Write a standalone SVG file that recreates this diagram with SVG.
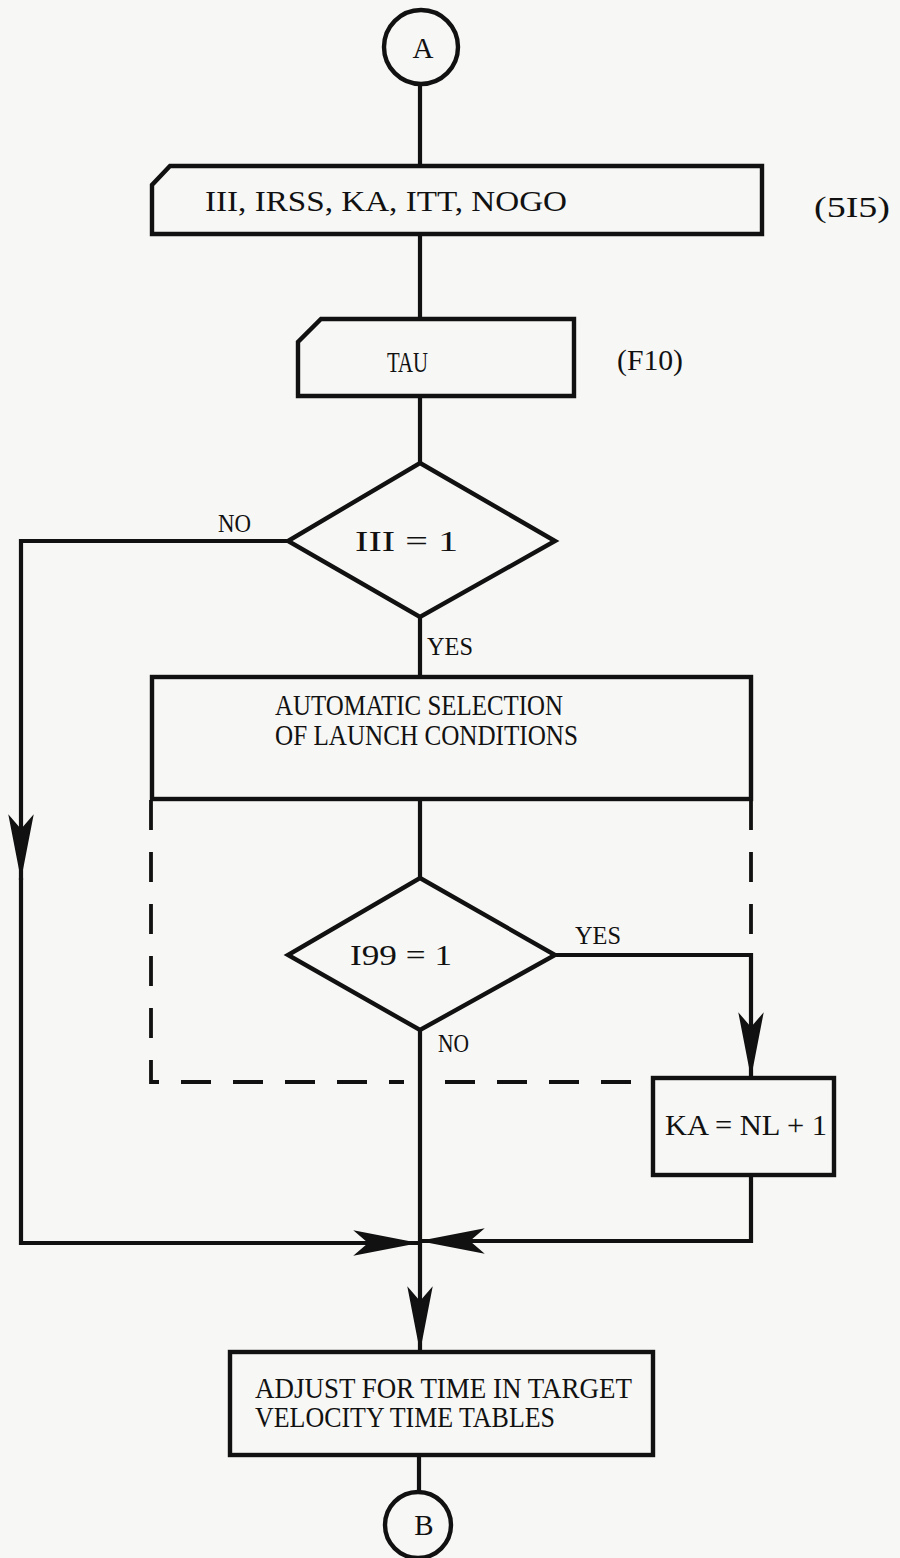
<svg xmlns="http://www.w3.org/2000/svg" width="900" height="1558" viewBox="0 0 900 1558">
<style>
.bg{fill:#f7f7f5}
.s{fill:none;stroke:#111;stroke-width:4.2;stroke-linejoin:miter}
.n{fill:#f7f7f5;stroke:#111;stroke-width:4.4}
.d{fill:none;stroke:#111;stroke-width:3.8;stroke-dasharray:30 22}
.t{font-family:"Liberation Serif","DejaVu Serif",serif;font-size:29px;fill:#111}
.l{font-family:"Liberation Serif","DejaVu Serif",serif;font-size:26px;fill:#111}
</style>
<defs>
<marker id="ah" markerUnits="userSpaceOnUse" orient="auto" markerWidth="70" markerHeight="30" viewBox="-64 -14 66 28" refX="0" refY="0">
<path d="M0,0 L-62,-12 L-48,0 L-62,12 Z" fill="#111"/>
</marker>
</defs>
<rect class="bg" x="0" y="0" width="900" height="1558"/>
<g id="connectors">
<path class="s" d="M420,84 V166"/>
<path class="s" d="M420,234 V319"/>
<path class="s" d="M420,396 V463"/>
<path class="s" d="M288,541 H21 V880" marker-end="url(#ah)"/>
<path class="s" d="M21,878 V1243 H419" marker-end="url(#ah)"/>
<path class="s" d="M420,617 V677"/>
<path class="s" d="M420,799 V878"/>
<path class="s" d="M555,955 H751 V1078" marker-end="url(#ah)"/>
<path class="s" d="M751,1175 V1241 H419" marker-end="url(#ah)"/>
<path class="s" d="M420,1030 V1352" marker-end="url(#ah)"/>
<path class="s" d="M419,1455 V1492"/>
<path class="d" d="M151,800 V1082 H404"/>
<path class="d" d="M445,1082 H653"/>
<path class="d" d="M751,800 V953"/>
<text class="l" x="218" y="532" textLength="33" lengthAdjust="spacingAndGlyphs">NO</text>
<text class="l" x="427" y="655" textLength="46" lengthAdjust="spacingAndGlyphs">YES</text>
<text class="l" x="575" y="944" textLength="46" lengthAdjust="spacingAndGlyphs">YES</text>
<text class="l" x="438" y="1052" textLength="31" lengthAdjust="spacingAndGlyphs">NO</text>
</g>
<g id="nodeA">
<circle class="n" cx="421" cy="47" r="37"/>
<text class="t" x="423" y="58" text-anchor="middle" font-size="25">A</text>
</g>
<g id="input1">
<path class="n" d="M170,166 H762 V234 H152 V185 Z"/>
<text class="t" x="205" y="211" textLength="362" lengthAdjust="spacingAndGlyphs">III, IRSS, KA, ITT, NOGO</text>
<text class="t" x="814" y="217" textLength="76" lengthAdjust="spacingAndGlyphs">(5I5)</text>
</g>
<g id="input2">
<path class="n" d="M321,319 H574 V396 H298 V342 Z"/>
<text class="t" x="387" y="372" textLength="41" lengthAdjust="spacingAndGlyphs">TAU</text>
<text class="t" x="617" y="370" textLength="66" lengthAdjust="spacingAndGlyphs">(F10)</text>
</g>
<g id="decision1">
<path class="n" d="M420,463 L555,541 L420,617 L288,541 Z"/>
<text class="t" x="355" y="551" textLength="103" lengthAdjust="spacingAndGlyphs">III = 1</text>
</g>
<g id="process1">
<rect class="n" x="152" y="677" width="599" height="122"/>
<text class="t" x="275" y="715" textLength="288" lengthAdjust="spacingAndGlyphs">AUTOMATIC SELECTION</text>
<text class="t" x="275" y="745" textLength="303" lengthAdjust="spacingAndGlyphs">OF LAUNCH CONDITIONS</text>
</g>
<g id="decision2">
<path class="n" d="M420,878 L555,955 L420,1030 L288,955 Z"/>
<text class="t" x="350" y="965" textLength="102" lengthAdjust="spacingAndGlyphs">I99 = 1</text>
</g>
<g id="process2">
<rect class="n" x="653" y="1078" width="181" height="97"/>
<text class="t" x="665" y="1135" textLength="162" lengthAdjust="spacingAndGlyphs">KA = NL + 1</text>
</g>
<g id="process3">
<rect class="n" x="230" y="1352" width="423" height="103"/>
<text class="t" x="255" y="1398" textLength="377" lengthAdjust="spacingAndGlyphs">ADJUST FOR TIME IN TARGET</text>
<text class="t" x="255" y="1427" textLength="300" lengthAdjust="spacingAndGlyphs">VELOCITY TIME TABLES</text>
</g>
<g id="nodeB">
<circle class="n" cx="418" cy="1525" r="33"/>
<text class="t" x="424" y="1535" text-anchor="middle" font-size="25">B</text>
</g>
</svg>
